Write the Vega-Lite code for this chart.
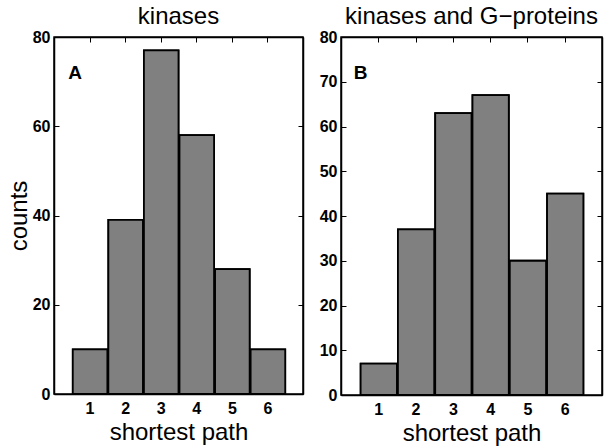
{
  "$schema": "https://vega.github.io/schema/vega-lite/v6.json",
  "padding": {"left": 6, "top": 4, "right": 8, "bottom": 2},
  "spacing": 13,
  "background": "white",
  "datasets": {
    "kinases": [
      {"bin_start": 0.5, "bin_end": 1.5, "count": 10},
      {"bin_start": 1.5, "bin_end": 2.5, "count": 39},
      {"bin_start": 2.5, "bin_end": 3.5, "count": 77},
      {"bin_start": 3.5, "bin_end": 4.5, "count": 58},
      {"bin_start": 4.5, "bin_end": 5.5, "count": 28},
      {"bin_start": 5.5, "bin_end": 6.5, "count": 10}
    ],
    "kinases_g": [
      {"bin_start": 0.5, "bin_end": 1.5, "count": 7},
      {"bin_start": 1.5, "bin_end": 2.5, "count": 37},
      {"bin_start": 2.5, "bin_end": 3.5, "count": 63},
      {"bin_start": 3.5, "bin_end": 4.5, "count": 67},
      {"bin_start": 4.5, "bin_end": 5.5, "count": 30},
      {"bin_start": 5.5, "bin_end": 6.5, "count": 45}
    ]
  },
  "hconcat": [
    {
      "width": 249,
      "height": 357,
      "title": {"text": "kinases", "fontSize": 24, "fontWeight": "normal", "font": "Liberation Sans", "color": "black", "offset": 0},
      "resolve": {"axis": {"x": "independent", "y": "independent"}},
      "layer": [
        {
          "data": {"name": "kinases"},
          "mark": {"type": "bar", "fill": "#808080", "stroke": "black", "strokeWidth": 1.8},
          "encoding": {
            "x": {"field": "bin_start", "type": "quantitative", "bin": "binned",
                  "scale": {"domain": [0, 7], "nice": false, "zero": false},
                  "axis": {"orient": "bottom", "values": [1, 2, 3, 4, 5, 6], "title": "shortest path", "labelPadding": 11, "titlePadding": 4}},
            "x2": {"field": "bin_end"},
            "y": {"field": "count", "type": "quantitative",
                  "scale": {"domain": [0, 80], "nice": false},
                  "axis": {"orient": "left", "values": [0, 20, 40, 60, 80], "title": "counts", "labelPadding": 9, "titlePadding": 1}}
          }
        },
        {
          "data": {"name": "kinases"},
          "mark": {"type": "bar", "fill": "#808080", "stroke": "black", "strokeWidth": 1.8},
          "encoding": {
            "x": {"field": "bin_start", "type": "quantitative", "bin": "binned",
                  "axis": {"orient": "top", "values": [1, 2, 3, 4, 5, 6], "labels": false, "title": null}},
            "x2": {"field": "bin_end"},
            "y": {"field": "count", "type": "quantitative",
                  "axis": {"orient": "right", "values": [0, 20, 40, 60, 80], "labels": false, "title": null}}
          }
        },
        {
          "data": {"values": [{"panel": "A"}]},
          "mark": {"type": "text", "align": "left", "baseline": "middle", "fontSize": 19, "fontWeight": "bold", "font": "Liberation Sans", "color": "black"},
          "encoding": {
            "text": {"field": "panel"},
            "x": {"datum": 0.4, "type": "quantitative", "axis": null},
            "y": {"datum": 72, "type": "quantitative", "axis": null}
          }
        }
      ]
    },
    {
      "width": 261,
      "height": 358,
      "title": {"text": "kinases and G−proteins", "fontSize": 24, "fontWeight": "normal", "font": "Liberation Sans", "color": "black", "offset": 0},
      "resolve": {"axis": {"x": "independent", "y": "independent"}},
      "layer": [
        {
          "data": {"name": "kinases_g"},
          "mark": {"type": "bar", "fill": "#808080", "stroke": "black", "strokeWidth": 1.8},
          "encoding": {
            "x": {"field": "bin_start", "type": "quantitative", "bin": "binned",
                  "scale": {"domain": [0, 7], "nice": false, "zero": false},
                  "axis": {"orient": "bottom", "values": [1, 2, 3, 4, 5, 6], "title": "shortest path", "labelPadding": 11, "titlePadding": 4}},
            "x2": {"field": "bin_end"},
            "y": {"field": "count", "type": "quantitative",
                  "scale": {"domain": [0, 80], "nice": false},
                  "axis": {"orient": "left", "values": [0, 10, 20, 30, 40, 50, 60, 70, 80], "title": null, "labelPadding": 9}}
          }
        },
        {
          "data": {"name": "kinases_g"},
          "mark": {"type": "bar", "fill": "#808080", "stroke": "black", "strokeWidth": 1.8},
          "encoding": {
            "x": {"field": "bin_start", "type": "quantitative", "bin": "binned",
                  "axis": {"orient": "top", "values": [1, 2, 3, 4, 5, 6], "labels": false, "title": null}},
            "x2": {"field": "bin_end"},
            "y": {"field": "count", "type": "quantitative",
                  "axis": {"orient": "right", "values": [0, 10, 20, 30, 40, 50, 60, 70, 80], "labels": false, "title": null}}
          }
        },
        {
          "data": {"values": [{"panel": "B"}]},
          "mark": {"type": "text", "align": "left", "baseline": "middle", "fontSize": 19, "fontWeight": "bold", "font": "Liberation Sans", "color": "black"},
          "encoding": {
            "text": {"field": "panel"},
            "x": {"datum": 0.34, "type": "quantitative", "axis": null},
            "y": {"datum": 72, "type": "quantitative", "axis": null}
          }
        }
      ]
    }
  ],
  "config": {
    "view": {"stroke": "black", "strokeWidth": 1.5},
    "axis": {
      "grid": false,
      "labelFont": "Liberation Sans",
      "labelFontWeight": "bold",
      "labelFontSize": 16,
      "labelColor": "black",
      "titleFont": "Liberation Sans",
      "titleFontWeight": "normal",
      "titleFontSize": 24,
      "titleColor": "black",
      "domainColor": "black",
      "domainWidth": 1.5,
      "tickColor": "black",
      "tickWidth": 1,
      "tickSize": -5
    }
  }
}
